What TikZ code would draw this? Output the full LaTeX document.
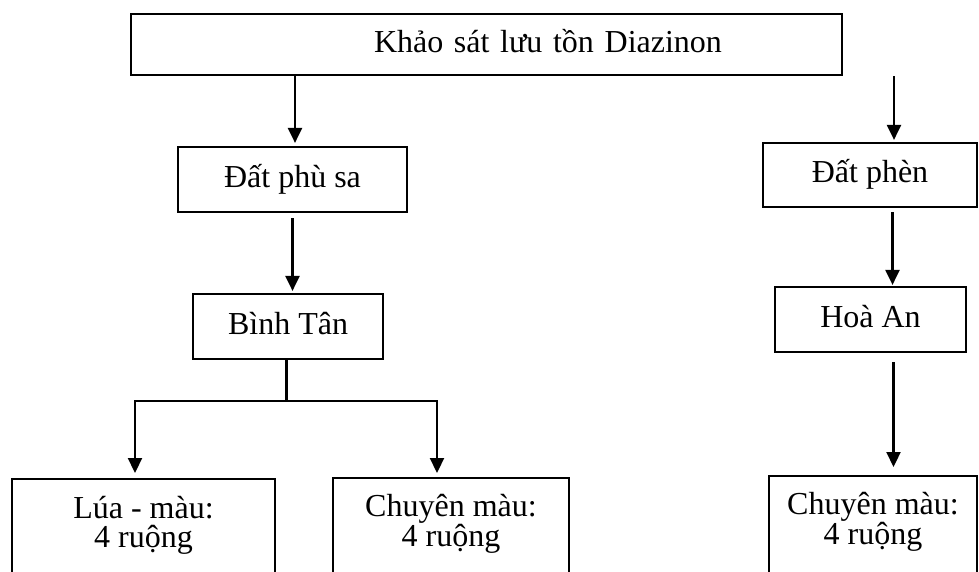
\documentclass[tikz,border=0pt]{standalone}
\usepackage{fontspec}
\setmainfont{Liberation Serif}
\usetikzlibrary{arrows.meta}
\begin{document}
\begin{tikzpicture}[
        x=1pt, y=-1pt,
        every node/.style={font=\fontsize{32}{29}\selectfont},
        box/.style={rectangle, draw=black, line width=2.2pt, inner sep=0pt, text height=22pt, text depth=7pt},
        leaf/.style={rectangle, draw=black, line width=2.2pt, inner sep=0pt, align=center, anchor=north, minimum height=100pt},
        arrow/.style={-{Triangle[length=15pt,width=14pt]}, line width=2.2pt, draw=black},
        link/.style={line width=2.2pt, draw=black}
        ]
        \clip (0,0) rectangle (979,571);
        
        % Survey box (top)
        \node[box, minimum width=711pt, minimum height=61pt, text width=711pt, align=left] (survey) at (486.5,44.5) {\hspace*{243pt}Khảo sát lưu tồn Diazinon};
        
        % Soil types
        \node[box, minimum width=229pt, minimum height=65pt] (alluvial) at (292.5,179.5) {Đất phù sa};
        \node[box, minimum width=214pt, minimum height=64pt] (acid) at (870,175) {Đất phèn};
        
        % Sites
        \node[box, minimum width=190pt, minimum height=65pt] (binhtan) at (288,326.5) {Bình Tân};
        \node[box, minimum width=191pt, minimum height=65pt] (hoaan) at (870.5,319.5) {Hoà An};
        
        % Field groups (bottom, cut by the page edge)
        \node[leaf, minimum width=263pt] (luamau) at (143.5,478) {Lúa - màu:\\4 ruộng\rule[-15pt]{0pt}{1pt}};
        \node[leaf, minimum width=236pt] (chuyenA) at (451,477) {Chuyên màu:\\4 ruộng\rule[-15pt]{0pt}{1pt}};
        \node[leaf, minimum width=208pt] (chuyenB) at (873,475) {Chuyên màu:\\4 ruộng\rule[-15pt]{0pt}{1pt}};
        
        % Arrow entry points
        \coordinate (alluvialin) at ([xshift=2.5pt]alluvial.north);
        \coordinate (acidin) at ([xshift=24pt]acid.north);
        \coordinate (hoaanin) at ([xshift=22pt]hoaan.north);
        \coordinate (chuyenBin) at ([xshift=20.5pt]chuyenB.north);
        \coordinate (luamauin) at ([xshift=-8.5pt]luamau.north);
        \coordinate (chuyenAin) at ([xshift=-14pt]chuyenA.north);
        \coordinate (split) at (286.5,401);
        
        % Connection lines
        \draw[arrow, shorten >=3pt] (survey.south -| alluvialin) -- (alluvialin);
        \draw[arrow, shorten >=2pt] (survey.south -| acidin) -- (acidin);
        \draw[arrow, shorten <=5pt, shorten >=2pt] (alluvial.south) -- (alluvial.south |- binhtan.north);
        \draw[arrow, shorten <=4pt, shorten >=1pt] (acid.south -| hoaanin) -- (hoaanin);
        \draw[link] (binhtan.south -| split) -- (split);
        \draw[arrow, shorten >=5pt] (split) -| (luamauin);
        \draw[arrow, shorten >=4pt] (split) -| (chuyenAin);
        \draw[arrow, shorten <=9pt, shorten >=8pt] (hoaan.south -| chuyenBin) -- (chuyenBin);
        
    \end{tikzpicture}
\end{document}
